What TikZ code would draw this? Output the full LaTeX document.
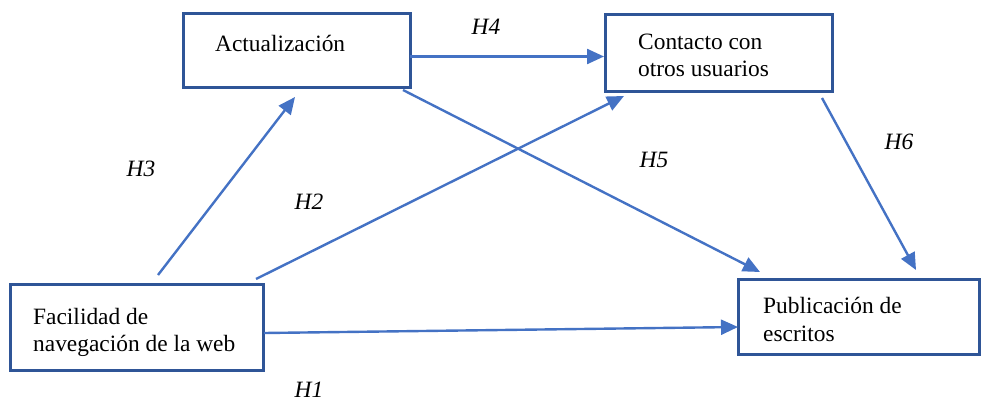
\documentclass[tikz,border=0pt]{standalone}
\usepackage{fontspec}
\setmainfont{Liberation Serif}
\usetikzlibrary{arrows.meta}
\definecolor{boxblue}{HTML}{2F5597}
\definecolor{arrblue}{HTML}{4472C4}
\tikzset{
  vbox/.style={draw=boxblue, line width=3pt, fill=white, rectangle, inner sep=0pt},
  vtext/.style={anchor=base west, inner sep=0pt, font=\fontsize{23.4}{27}\selectfont},
  hlab/.style={inner sep=0pt, font=\fontsize{23.4}{27}\selectfont\itshape},
  arr/.style={draw=arrblue, line width=2.4pt, -{Triangle[length=17pt,width=15pt]}}
}
\begin{document}
\begin{tikzpicture}[x=1pt,y=-1pt]
\useasboundingbox (0,0) rectangle (981,401);
% boxes
\node[vbox, minimum width=227pt, minimum height=74pt] (act) at (296.5,51) {};
\node[vbox, minimum width=227pt, minimum height=77pt] (con) at (718.5,53.5) {};
\node[vbox, minimum width=253pt, minimum height=86pt] (fac) at (136.5,327) {};
\node[vbox, minimum width=241pt, minimum height=75pt] (pub) at (858.5,316.5) {};
% texts
\node[vtext] (tact) at (215,52) {Actualización};
\node[vtext] (tcon1) at (638,50) {Contacto con};
\node[vtext] (tcon2) at (638,77) {otros usuarios};
\node[vtext] (tfac1) at (33,324) {Facilidad de};
\node[vtext] (tfac2) at (33,351) {navegación de la web};
\node[vtext] (tpub1) at (763,313) {Publicación de};
\node[vtext] (tpub2) at (763,341) {escritos};
% connector endpoints
\coordinate (h4s) at (410,56.5);
\coordinate (h4e) at (604,56.5);
\coordinate (h3s) at (158,275);
\coordinate (h3e) at (295,97);
\coordinate (h2s) at (256,279);
\coordinate (h2e) at (624,96);
\coordinate (h5s) at (403,90);
\coordinate (h5e) at (760,272);
\coordinate (h6s) at (822,98);
\coordinate (h6e) at (916,270);
\coordinate (h1s) at (264,333);
\coordinate (h1e) at (738,327);
% connectors
\draw[arr] (h4s) -- (h4e);
\draw[arr] (h3s) -- (h3e);
\draw[arr] (h2s) -- (h2e);
\draw[arr] (h5s) -- (h5e);
\draw[arr] (h6s) -- (h6e);
\draw[arr] (h1s) -- (h1e);
% labels
\node[hlab] (l4) at (486,27) {H4};
\node[hlab] (l3) at (141,169) {H3};
\node[hlab] (l2) at (309,202) {H2};
\node[hlab] (l5) at (654,160) {H5};
\node[hlab] (l6) at (899,142) {H6};
\node[hlab] (l1) at (309,390) {H1};
\end{tikzpicture}
\end{document}
